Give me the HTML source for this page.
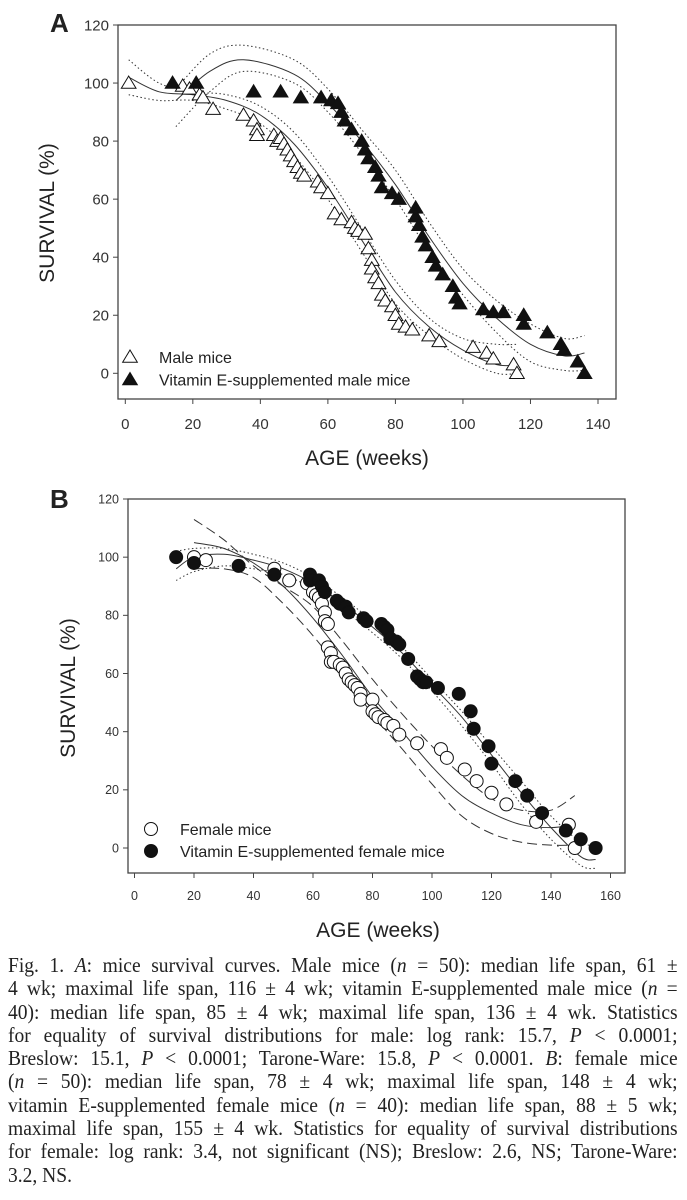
<!DOCTYPE html>
<html><head><meta charset="utf-8">
<style>
body{margin:0;background:#fff;width:687px;height:1200px;overflow:hidden;position:relative;font-family:"Liberation Sans",sans-serif}
svg{position:absolute;left:0;top:0}
#cap{position:absolute;left:8px;top:954px;width:720px;font-family:"Liberation Serif",serif;font-size:21px;line-height:23.3px;color:#222;transform:scaleX(0.93);transform-origin:0 0}
#cap div{text-align:justify;text-align-last:justify;white-space:nowrap;overflow:visible}
#cap div.last{text-align-last:left}
</style></head><body>
<svg id="chart" width="687" height="950"></svg>
<div id="cap">
<div>Fig. 1. <i>A</i>: mice survival curves. Male mice (<i>n</i> = 50): median life span, 61 ±</div>
<div>4 wk; maximal life span, 116 ± 4 wk; vitamin E-supplemented male mice (<i>n</i> =</div>
<div>40): median life span, 85 ± 4 wk; maximal life span, 136 ± 4 wk. Statistics</div>
<div>for equality of survival distributions for male: log rank: 15.7, <i>P</i> &lt; 0.0001;</div>
<div>Breslow: 15.1, <i>P</i> &lt; 0.0001; Tarone-Ware: 15.8, <i>P</i> &lt; 0.0001. <i>B</i>: female mice</div>
<div>(<i>n</i> = 50): median life span, 78 ± 4 wk; maximal life span, 148 ± 4 wk;</div>
<div>vitamin E-supplemented female mice (<i>n</i> = 40): median life span, 88 ± 5 wk;</div>
<div>maximal life span, 155 ± 4 wk. Statistics for equality of survival distributions</div>
<div>for female: log rank: 3.4, not significant (NS); Breslow: 2.6, NS; Tarone-Ware:</div>
<div class="last">3.2, NS.</div>
</div>
<script>
// ---- Panel A data ----
const aXTicks=[0,20,40,60,80,100,120,140];
const aYTicks=[0,20,40,60,80,100,120];
const maleX=[1,17,19,22,23,26,35,38,39,39,44,45,46,47,48,49,50,51,52,53,57,58,60,62,64,67,68,69,71,72,73,73,74,75,76,77,79,80,81,83,85,90,93,103,107,109,115,116];
const maleY=[100,99,98,96,95,91,89,87,84,82,82,80,81,79,77,75,73,71,69,68,66,64,62,55,53,52,50,49,48,43,39,36,33,31,27,25,23,20,17,16,15,13,11,9,7,5,3,0];
const vitMX=[14,21,38,46,52,58,61,63,64,65,67,70,71,72,74,75,76,79,81,86,86,87,88,89,91,92,94,97,98,99,106,109,112,118,118,125,129,130,134,136];
const vitMY=[100,100,97,97,95,95,94,93,90,87,84,80,77,74,71,68,64,62,60,57,54,51,47,44,40,37,34,30,26,24,22,21,21,20,17,14,10,8,4,0];
const maleFitX=[1,10,20,30,40,50,60,70,80,90,100,110,116];
const maleFit=[102,97,96,94,89,79,64,46,28,16,8,3,3];
const maleUp=[108,100,97,96,92,83,68,50,32,19,12,10,10];
const maleLo=[96,94,94,91,86,75,60,42,24,13,5,0,0];
const vitMFitX=[15,25,35,50,60,70,80,90,100,110,120,130,136];
const vitMFit=[94,104,108,103,93,80,65,47,31,19,10,6,7];
const vitMUp=[98,110,113,108,98,84,70,52,36,25,17,12,13];
const vitMLo=[85,97,104,100,90,76,60,42,27,14,4,1,1];
// ---- Panel B data ----
const bXTicks=[0,20,40,60,80,100,120,140,160];
const bYTicks=[0,20,40,60,80,100,120];
const femX=[20,24,47,52,58,60,61,62,63,64,64,65,65,66,66,67,69,70,71,72,73,74,75,76,76,80,80,81,82,84,85,87,89,95,103,105,111,115,120,125,135,146,148];
const femY=[100,99,96,92,91,88,87,86,84,81,78,77,69,67,64,64,63,62,60,58,57,56,55,53,51,51,47,46,45,44,43,42,39,36,34,31,27,23,19,15,9,8,0];
const vitFX=[14,20,35,47,59,59,62,63,64,68,69,71,72,77,78,83,84,85,86,88,89,92,95,96,97,98,102,109,113,114,119,120,128,132,137,145,150,155];
const vitFY=[100,98,97,94,94,92,92,90,88,85,84,83,81,79,78,77,76,75,72,71,70,65,59,58,57,57,55,53,47,41,35,29,23,18,12,6,3,0];
const femFitX=[20,30,40,50,60,70,80,90,100,110,120,130,140,148];
const femFit=[105,103,98,90,79,66,52,40,28,18,12,8,7,8];
const femUp=[113,106,97,90,83,71,58,46,35,25,17,13,13,18];
const femLo=[96,96,93,84,73,60,46,34,22,11,5,2,1,1];
const vitFFitX=[14,20,30,40,50,60,70,80,90,100,110,120,130,140,150,155];
const vitFFit=[96,100,101,99,96,91,84,76,67,56,45,32,19,7,-3,-4];
const vitFUp=[102,103,103,101,98,93,86,78,69,58,47,35,23,11,2,1];
const vitFLo=[92,95,97,96,94,89,82,74,65,54,42,29,15,3,-6,-7];

const NS="http://www.w3.org/2000/svg";
const svg=document.getElementById('chart');
function mk(tag,attrs,parent){const e=document.createElementNS(NS,tag);for(const k in attrs)e.setAttribute(k,attrs[k]);(parent||svg).appendChild(e);return e;}
function smooth(pts){
  let d='M'+pts[0][0].toFixed(1)+','+pts[0][1].toFixed(1);
  for(let i=0;i<pts.length-1;i++){
    const p0=pts[i-1]||pts[i],p1=pts[i],p2=pts[i+1],p3=pts[i+2]||p2;
    const c1=[p1[0]+(p2[0]-p0[0])/6,p1[1]+(p2[1]-p0[1])/6];
    const c2=[p2[0]-(p3[0]-p1[0])/6,p2[1]-(p3[1]-p1[1])/6];
    d+=` C${c1[0].toFixed(1)},${c1[1].toFixed(1)} ${c2[0].toFixed(1)},${c2[1].toFixed(1)} ${p2[0].toFixed(1)},${p2[1].toFixed(1)}`;
  }
  return d;
}

function panel(cfg){
  const g=mk('g',{});
  
  
  const sx=v=>cfg.x0+(v-cfg.xmin)*(cfg.x1-cfg.x0)/(cfg.xmax-cfg.xmin);
  const sy=v=>cfg.y0+(v-0)*(cfg.y1-cfg.y0)/(120);
  const box=mk('rect',{x:cfg.bl,y:cfg.bt,width:cfg.br-cfg.bl,height:cfg.bb-cfg.bt,fill:'none',stroke:'#444','stroke-width':1.3},g);
  
  
  cfg.xt.forEach(t=>{
    mk('line',{x1:sx(t),x2:sx(t),y1:cfg.bb,y2:cfg.bb+5,stroke:'#444'},g);
    const tx=mk('text',{x:sx(t),y:cfg.xly,'font-size':cfg.tfs,'text-anchor':'middle',fill:'#333'},g);
    tx.textContent=t;
    
    
  });
  cfg.yt.forEach(t=>{
    mk('line',{x1:cfg.bl-5,x2:cfg.bl,y1:sy(t),y2:sy(t),stroke:'#444'},g);
    const tx=mk('text',{x:cfg.bl-9,y:sy(t)+cfg.tfs*0.35,'font-size':cfg.tfs,'text-anchor':'end',fill:'#333'},g);
    tx.textContent=t;
    
    
  });
  const xtitle=mk('text',{x:cfg.xtx,y:cfg.xty,'font-size':21,'text-anchor':'middle',fill:'#222'},g);
  xtitle.textContent='AGE (weeks)';
  
  
  const ytitle=mk('text',{x:0,y:0,'font-size':21,'text-anchor':'middle',fill:'#222',transform:`translate(${cfg.ytx},${cfg.yty}) rotate(-90)`},g);
  ytitle.textContent='SURVIVAL (%)';
  
  
  const lab=mk('text',{x:cfg.lx,y:cfg.ly,'font-size':26,'font-weight':'bold',fill:'#222'},g);
  lab.textContent=cfg.label;
  
  
  cfg.curves.forEach(c=>{
    const pts=c.xs.map((x,i)=>[sx(x),sy(c.ys[i])]);
    const p=mk('path',{d:smooth(pts),fill:'none',stroke:'#333','stroke-width':c.w||1,'stroke-dasharray':c.dash||'none'},g);
    
    
  });
  cfg.series.forEach(s=>{
    s.xs.forEach((x,i)=>{
      const cx=sx(x),cy=sy(s.ys[i]);let m;
      if(s.shape==='tri'){const r=cfg.ms;m=mk('polygon',{points:`${cx},${cy-r} ${cx-r*1.05},${cy+r*0.75} ${cx+r*1.05},${cy+r*0.75}`,fill:s.fill?'#111':'#fff',stroke:'#111','stroke-width':1},g);}
      else m=mk('circle',{cx:cx,cy:cy,r:cfg.ms,fill:s.fill?'#111':'#fff',stroke:'#111','stroke-width':1},g);
      
      
    });
  });
  cfg.legend.forEach((l,i)=>{
    const cy=cfg.legY+i*cfg.legDy,cx=cfg.legX,r=cfg.ms;let m;
    if(l.shape==='tri')m=mk('polygon',{points:`${cx},${cy-r} ${cx-r*1.05},${cy+r*0.75} ${cx+r*1.05},${cy+r*0.75}`,fill:l.fill?'#111':'#fff',stroke:'#111'},g);
    else m=mk('circle',{cx:cx,cy:cy,r:r,fill:l.fill?'#111':'#fff',stroke:'#111'},g);
    
    
    const t=mk('text',{x:cfg.legTx,y:cy+6,'font-size':16,fill:'#222'},g);
    t.textContent=l.text;
    
    
  });
}

panel({name:'panel-a-chart',label:'A',lx:50,ly:32,xmin:0,xmax:140,x0:125.3,x1:598,y0:373.3,y1:25,bl:118,br:616,bt:25,bb:399,
  xt:aXTicks,yt:aYTicks,tfs:15,xly:429,xtx:367,xty:465,ytx:54,yty:213,ms:7,
  curves:[
    {name:'male-fit-line',xs:maleFitX,ys:maleFit},
    {name:'male-ci-upper',xs:maleFitX,ys:maleUp,dash:'1.5 2.5'},
    {name:'male-ci-lower',xs:maleFitX,ys:maleLo,dash:'1.5 2.5'},
    {name:'vitamin-e-male-fit-line',xs:vitMFitX,ys:vitMFit},
    {name:'vitamin-e-male-ci-upper',xs:vitMFitX,ys:vitMUp,dash:'1.5 2.5'},
    {name:'vitamin-e-male-ci-lower',xs:vitMFitX,ys:vitMLo,dash:'1.5 2.5'}],
  series:[{name:'male-mice-point',xs:maleX,ys:maleY,shape:'tri',fill:false},
          {name:'vitamin-e-male-point',xs:vitMX,ys:vitMY,shape:'tri',fill:true}],
  legend:[{text:'Male mice',shape:'tri',fill:false},{text:'Vitamin E-supplemented male mice',shape:'tri',fill:true}],
  legX:130,legY:357,legDy:22.5,legTx:159});

panel({name:'panel-b-chart',label:'B',lx:50,ly:508,xmin:0,xmax:160,x0:134.5,x1:610.5,y0:848,y1:499,bl:128,br:625,bt:499,bb:873,
  xt:bXTicks,yt:bYTicks,tfs:12.5,xly:900,xtx:378,xty:937,ytx:75,yty:688,ms:6.5,
  curves:[
    {name:'female-fit-line',xs:femFitX,ys:femFit},
    {name:'female-ci-upper',xs:femFitX,ys:femUp,dash:'10 5'},
    {name:'female-ci-lower',xs:femFitX,ys:femLo,dash:'10 5'},
    {name:'vitamin-e-female-fit-line',xs:vitFFitX,ys:vitFFit},
    {name:'vitamin-e-female-ci-upper',xs:vitFFitX,ys:vitFUp,dash:'1.5 2.5'},
    {name:'vitamin-e-female-ci-lower',xs:vitFFitX,ys:vitFLo,dash:'1.5 2.5'}],
  series:[{name:'female-mice-point',xs:femX,ys:femY,shape:'circ',fill:false},
          {name:'vitamin-e-female-point',xs:vitFX,ys:vitFY,shape:'circ',fill:true}],
  legend:[{text:'Female mice',shape:'circ',fill:false},{text:'Vitamin E-supplemented female mice',shape:'circ',fill:true}],
  legX:151,legY:829,legDy:22,legTx:180});
</script>
</body></html>
